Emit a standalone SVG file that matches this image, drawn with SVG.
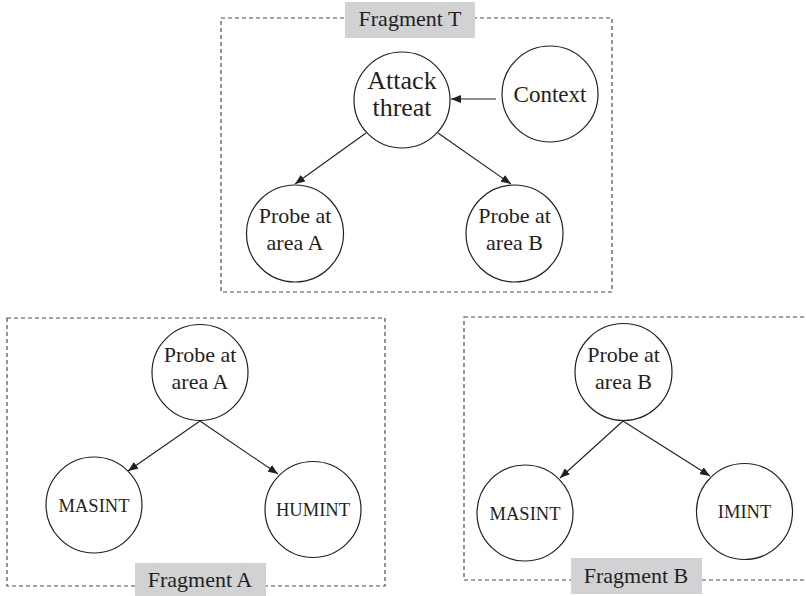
<svg xmlns="http://www.w3.org/2000/svg" width="806" height="596" viewBox="0 0 806 596">
  <defs>
    <marker id="arrow" viewBox="0 0 10 8" refX="10" refY="4" markerWidth="10" markerHeight="8" markerUnits="userSpaceOnUse" orient="auto">
      <path d="M0,0 L10,4 L0,8 Z" fill="#231f20"/>
    </marker>
    <style>
      .frame { fill: none; stroke: #4d4d4f; stroke-width: 1.2; stroke-dasharray: 4 3; }
      .tag { fill: #d1d2d4; }
      .tagtext { font-family: "Liberation Serif", "DejaVu Serif", serif; font-size: 22px; fill: #231f20; text-anchor: middle; }
      .node { fill: #ffffff; stroke: #231f20; stroke-width: 1.2; }
      .lbl { font-family: "Liberation Serif", "DejaVu Serif", serif; fill: #231f20; text-anchor: middle; }
      .big { font-size: 26px; }
      .ctx { font-size: 23px; }
      .mid { font-size: 22px; }
      .small { font-size: 18.5px; }
      .edge { stroke: #231f20; stroke-width: 1.1; fill: none; marker-end: url(#arrow); }
    </style>
  </defs>

  <!-- fragment frames with their tags -->
  <g id="fragment-T">
    <rect class="frame" x="221" y="18" width="391" height="274"/>
    <rect class="tag" x="345" y="2" width="130" height="36"/>
    <text class="tagtext" x="410" y="26">Fragment T</text>
  </g>
  <g id="fragment-A">
    <rect class="frame" x="7" y="318" width="378" height="268"/>
    <rect class="tag" x="135" y="563" width="131" height="33"/>
    <text class="tagtext" x="200" y="587">Fragment A</text>
  </g>
  <g id="fragment-B">
    <rect class="frame" x="464" y="317" width="350" height="263"/>
    <rect class="tag" x="571" y="558" width="131" height="36"/>
    <text class="tagtext" x="636" y="583">Fragment B</text>
  </g>

  <!-- connectors -->
  <g id="connectors">
    <line class="edge" x1="496" y1="99" x2="451" y2="99"/>
    <line class="edge" x1="366" y1="133" x2="295" y2="184"/>
    <line class="edge" x1="438" y1="133" x2="511" y2="184"/>
    <line class="edge" x1="200" y1="421" x2="128" y2="471"/>
    <line class="edge" x1="200" y1="421" x2="278" y2="474"/>
    <line class="edge" x1="623" y1="421" x2="560" y2="478"/>
    <line class="edge" x1="623" y1="421" x2="710" y2="476"/>
  </g>

  <!-- nodes of fragment T -->
  <g id="attack-threat">
    <circle class="node" cx="402" cy="100" r="48"/>
    <text class="lbl big" x="402" y="89">Attack</text>
    <text class="lbl big" x="402" y="116">threat</text>
  </g>
  <g id="context">
    <circle class="node" cx="550" cy="94" r="48"/>
    <text class="lbl ctx" x="550" y="102">Context</text>
  </g>
  <g id="probe-a-top">
    <circle class="node" cx="295" cy="233.5" r="48.5"/>
    <text class="lbl mid" x="295" y="223">Probe at</text>
    <text class="lbl mid" x="295" y="250">area A</text>
  </g>
  <g id="probe-b-top">
    <circle class="node" cx="514.5" cy="233.5" r="48.5"/>
    <text class="lbl mid" x="514.5" y="223">Probe at</text>
    <text class="lbl mid" x="514.5" y="250">area B</text>
  </g>

  <!-- nodes of fragment A -->
  <g id="probe-a">
    <circle class="node" cx="200" cy="372.5" r="48"/>
    <text class="lbl mid" x="200" y="362">Probe at</text>
    <text class="lbl mid" x="200" y="389">area A</text>
  </g>
  <g id="masint-a">
    <circle class="node" cx="94" cy="505" r="48"/>
    <text class="lbl small" x="94" y="512">MASINT</text>
  </g>
  <g id="humint">
    <circle class="node" cx="313" cy="509.5" r="48"/>
    <text class="lbl small" x="313" y="516">HUMINT</text>
  </g>

  <!-- nodes of fragment B -->
  <g id="probe-b">
    <circle class="node" cx="623.5" cy="372" r="48.5"/>
    <text class="lbl mid" x="623.5" y="362">Probe at</text>
    <text class="lbl mid" x="623.5" y="389">area B</text>
  </g>
  <g id="masint-b">
    <circle class="node" cx="525" cy="513" r="48"/>
    <text class="lbl small" x="525" y="520">MASINT</text>
  </g>
  <g id="imint">
    <circle class="node" cx="744.5" cy="511.5" r="48"/>
    <text class="lbl small" x="744.5" y="518">IMINT</text>
  </g>
</svg>
